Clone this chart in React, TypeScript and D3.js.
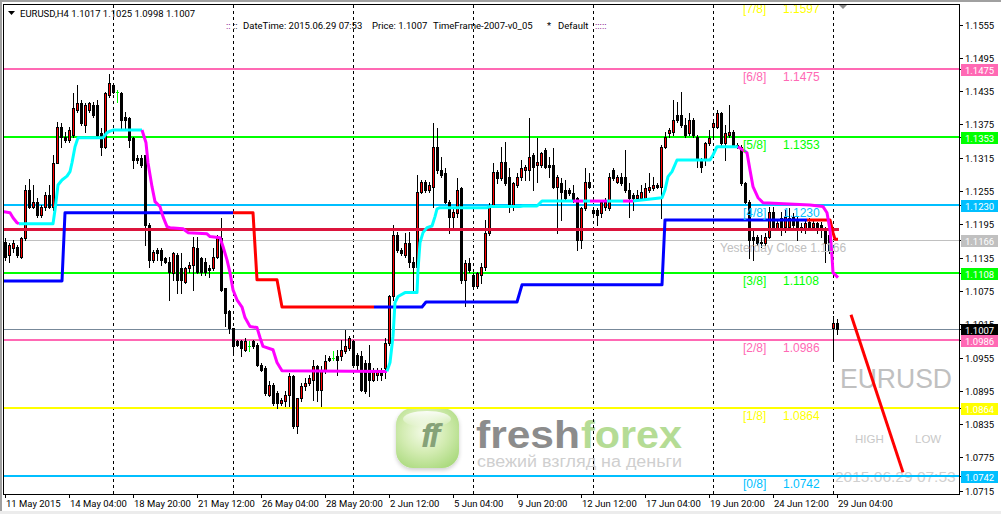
import React from "react";
import * as d3 from "d3";

// ---------- DATA ----------
const firstBar = 3; // bar index of first visible candle (bar 0 = 11 May 2015 00:00, H4)

const opens = [
  1.1164,1.1140,1.1152,1.1155,1.1137,1.1170,1.1257,1.1227,1.1236,1.1212,
  1.1227,1.1248,1.1227,1.1305,1.1371,1.1353,1.1347,1.1356,1.1401,1.1413,
  1.1374,1.1401,1.1410,1.1410,1.1359,1.1335,1.1428,1.1446,1.1434,1.1431,
  1.1389,1.1386,1.1350,1.1314,1.1314,1.1320,1.1194,1.1131,1.1149,1.1149,
  1.1134,1.1128,1.1107,1.1140,1.1116,1.1092,1.1116,1.1122,1.1152,1.1134,
  1.1128,1.1116,1.1116,1.1137,1.1170,1.1080,1.1038,1.1008,1.0984,1.0984,
  1.0969,1.0975,1.0984,1.0978,1.0942,1.0936,1.0888,1.0906,1.0891,1.0873,
  1.0876,1.0888,1.0921,1.0831,1.0882,1.0903,1.0909,1.0915,1.0939,1.0897,
  1.0930,1.0954,1.0954,1.0957,1.0957,1.0966,1.0972,1.0984,1.0960,1.0957,
  1.0945,1.0945,1.0915,1.0924,1.0933,1.0936,1.0981,1.1065,1.1176,1.1149,
  1.1140,1.1161,1.1128,1.1119,1.1254,1.1272,1.1257,1.1263,1.1335,1.1293,
  1.1287,1.1236,1.1209,1.1215,1.1260,1.1095,1.1125,1.1104,1.1083,1.1104,
  1.1119,1.1179,1.1230,1.1290,1.1278,1.1308,1.1281,1.1227,1.1266,1.1281,
  1.1293,1.1293,1.1320,1.1302,1.1302,1.1329,1.1302,1.1302,1.1263,1.1269,
  1.1257,1.1257,1.1251,1.1242,1.1167,1.1224,1.1272,1.1221,1.1221,1.1215,
  1.1227,1.1224,1.1293,1.1272,1.1281,1.1281,1.1257,1.1248,1.1242,1.1242,
  1.1242,1.1257,1.1260,1.1266,1.1263,1.1335,1.1359,1.1362,1.1392,1.1392,
  1.1374,1.1359,1.1383,1.1353,1.1311,1.1311,1.1341,1.1371,1.1371,1.1395,
  1.1341,1.1356,1.1362,1.1338,1.1335,1.1269,1.1236,1.1173,1.1173,1.1164,
  1.1161,1.1173,1.1218,1.1188,1.1206,1.1191,1.1191,1.1209,1.1203,1.1191,
  1.1188,1.1200,1.1191,1.1197,1.1194,1.1185,1.1176,1.1008,1.1017,
];
const highs = [
  1.1170,1.1161,1.1167,1.1158,1.1173,1.1266,1.1276,1.1266,1.1242,1.1230,
  1.1254,1.1266,1.1320,1.1380,1.1377,1.1362,1.1371,1.1431,1.1446,1.1419,
  1.1413,1.1416,1.1416,1.1419,1.1368,1.1434,1.1466,1.1449,1.1437,1.1434,
  1.1398,1.1389,1.1353,1.1320,1.1320,1.1320,1.1197,1.1149,1.1152,1.1152,
  1.1137,1.1137,1.1146,1.1144,1.1143,1.1119,1.1128,1.1173,1.1173,1.1137,
  1.1134,1.1122,1.1152,1.1176,1.1206,1.1080,1.1041,1.1008,1.0987,1.0987,
  1.0990,1.0984,1.0987,1.0981,1.0945,1.0939,1.0912,1.0909,1.0894,1.0882,
  1.0894,1.0927,1.0924,1.0882,1.0909,1.0918,1.0924,1.0951,1.0942,1.0939,
  1.0960,1.0957,1.0966,1.0969,1.0987,1.1005,1.0993,1.0987,1.0963,1.0966,
  1.0951,1.0978,1.0936,1.0936,1.0936,1.0990,1.1068,1.1194,1.1182,1.1152,
  1.1179,1.1182,1.1137,1.1284,1.1275,1.1275,1.1272,1.1377,1.1368,1.1317,
  1.1296,1.1239,1.1227,1.1278,1.1263,1.1131,1.1134,1.1107,1.1110,1.1125,
  1.1203,1.1233,1.1305,1.1293,1.1335,1.1344,1.1296,1.1272,1.1287,1.1311,
  1.1302,1.1386,1.1323,1.1350,1.1326,1.1332,1.1317,1.1332,1.1284,1.1278,
  1.1275,1.1260,1.1266,1.1245,1.1227,1.1296,1.1287,1.1227,1.1224,1.1239,
  1.1242,1.1287,1.1296,1.1284,1.1287,1.1329,1.1269,1.1251,1.1257,1.1266,
  1.1269,1.1287,1.1281,1.1269,1.1338,1.1362,1.1368,1.1419,1.1416,1.1434,
  1.1386,1.1395,1.1386,1.1356,1.1314,1.1344,1.1365,1.1380,1.1401,1.1398,
  1.1374,1.1410,1.1365,1.1341,1.1338,1.1272,1.1239,1.1185,1.1176,1.1176,
  1.1179,1.1227,1.1227,1.1203,1.1218,1.1221,1.1224,1.1215,1.1209,1.1197,
  1.1203,1.1206,1.1203,1.1200,1.1200,1.1191,1.1185,1.1029,1.1025,
];
const lows = [
  1.1131,1.1128,1.1146,1.1137,1.1134,1.1167,1.1224,1.1224,1.1209,1.1209,
  1.1221,1.1224,1.1221,1.1305,1.1335,1.1344,1.1344,1.1353,1.1398,1.1374,
  1.1362,1.1398,1.1389,1.1353,1.1320,1.1332,1.1425,1.1431,1.1416,1.1368,
  1.1368,1.1335,1.1296,1.1305,1.1299,1.1158,1.1119,1.1128,1.1131,1.1122,
  1.1125,1.1059,1.1095,1.1071,1.1071,1.1089,1.1110,1.1077,1.1107,1.1104,
  1.1104,1.1101,1.1113,1.1134,1.1074,1.1011,1.0999,1.0960,1.0975,1.0957,
  1.0966,1.0966,1.0972,1.0939,1.0930,1.0888,1.0885,1.0870,1.0864,1.0870,
  1.0867,1.0867,1.0828,1.0819,1.0876,1.0897,1.0906,1.0879,1.0876,1.0867,
  1.0927,1.0948,1.0951,1.0924,1.0951,1.0963,1.0969,1.0939,1.0930,1.0894,
  1.0891,1.0885,1.0912,1.0915,1.0915,1.0918,1.0978,1.1059,1.1146,1.1140,
  1.1137,1.1119,1.1077,1.1116,1.1251,1.1254,1.1254,1.1227,1.1287,1.1281,
  1.1233,1.1179,1.1191,1.1209,1.1089,1.1047,1.1110,1.1080,1.1080,1.1089,
  1.1113,1.1176,1.1227,1.1269,1.1275,1.1266,1.1218,1.1221,1.1263,1.1275,
  1.1275,1.1275,1.1257,1.1272,1.1299,1.1296,1.1281,1.1260,1.1179,1.1203,
  1.1239,1.1248,1.1236,1.1149,1.1152,1.1221,1.1260,1.1209,1.1194,1.1209,
  1.1221,1.1221,1.1275,1.1269,1.1266,1.1254,1.1209,1.1221,1.1239,1.1239,
  1.1239,1.1254,1.1257,1.1260,1.1206,1.1332,1.1353,1.1356,1.1380,1.1371,
  1.1353,1.1356,1.1353,1.1299,1.1290,1.1302,1.1338,1.1353,1.1368,1.1338,
  1.1311,1.1353,1.1335,1.1332,1.1266,1.1233,1.1134,1.1131,1.1158,1.1155,
  1.1158,1.1170,1.1185,1.1185,1.1176,1.1182,1.1185,1.1191,1.1167,1.1182,
  1.1179,1.1185,1.1185,1.1179,1.1173,1.1128,1.1143,1.0951,1.0998,
];
const closes = [
  1.1137,1.1157,1.1161,1.1140,1.1170,1.1257,1.1227,1.1236,1.1212,1.1227,
  1.1248,1.1227,1.1305,1.1371,1.1353,1.1347,1.1365,1.1404,1.1413,1.1377,
  1.1410,1.1413,1.1392,1.1356,1.1335,1.1431,1.1449,1.1434,1.1434,1.1383,
  1.1383,1.1347,1.1311,1.1311,1.1302,1.1194,1.1131,1.1146,1.1143,1.1131,
  1.1128,1.1110,1.1143,1.1095,1.1095,1.1116,1.1122,1.1155,1.1110,1.1110,
  1.1110,1.1113,1.1137,1.1170,1.1077,1.1035,1.1008,1.0975,1.0978,1.0972,
  1.0984,1.0975,1.0975,1.0942,1.0933,1.0891,1.0906,1.0873,1.0873,1.0879,
  1.0888,1.0921,1.0831,1.0882,1.0903,1.0909,1.0918,1.0939,1.0897,1.0930,
  1.0948,1.0951,1.0954,1.0951,1.0969,1.0975,1.0990,1.0942,1.0942,1.0897,
  1.0894,1.0915,1.0933,1.0933,1.0924,1.0981,1.1065,1.1176,1.1149,1.1143,
  1.1161,1.1128,1.1119,1.1254,1.1272,1.1257,1.1266,1.1335,1.1293,1.1284,
  1.1236,1.1209,1.1218,1.1257,1.1095,1.1125,1.1113,1.1083,1.1107,1.1119,
  1.1179,1.1227,1.1290,1.1278,1.1308,1.1269,1.1227,1.1269,1.1281,1.1296,
  1.1299,1.1317,1.1299,1.1308,1.1323,1.1299,1.1299,1.1263,1.1281,1.1254,
  1.1242,1.1251,1.1239,1.1167,1.1224,1.1272,1.1263,1.1215,1.1212,1.1236,
  1.1236,1.1281,1.1278,1.1281,1.1269,1.1257,1.1242,1.1242,1.1248,1.1254,
  1.1260,1.1263,1.1266,1.1263,1.1335,1.1353,1.1365,1.1383,1.1383,1.1374,
  1.1356,1.1383,1.1356,1.1311,1.1299,1.1341,1.1350,1.1377,1.1395,1.1341,
  1.1359,1.1362,1.1338,1.1335,1.1269,1.1236,1.1167,1.1167,1.1161,1.1161,
  1.1173,1.1218,1.1191,1.1197,1.1188,1.1209,1.1206,1.1194,1.1185,1.1185,
  1.1197,1.1188,1.1197,1.1188,1.1185,1.1161,1.1149,1.1017,1.1007,
];

const timeTickBars = [3, 19, 35, 51, 67, 83, 99, 115, 131, 147, 163, 179, 195, 211];
const timeTickLabels = [
  "11 May 2015", "14 May 04:00", "18 May 20:00", "21 May 12:00", "26 May 04:00",
  "28 May 20:00", "2 Jun 12:00", "5 Jun 04:00", "9 Jun 20:00", "12 Jun 12:00",
  "17 Jun 04:00", "19 Jun 20:00", "24 Jun 12:00", "29 Jun 04:00",
];
const weekStartBars = [30, 60, 90, 120, 150, 180, 210];

const priceTicks = [
  1.1555, 1.1495, 1.1435, 1.1375, 1.1315, 1.1255, 1.1195, 1.1135,
  1.1075, 1.1015, 1.0955, 1.0895, 1.0835, 1.0775, 1.0715,
];

const mmNames = ["[0/8]", "[1/8]", "[2/8]", "[3/8]", "[4/8]", "[5/8]", "[6/8]", "[7/8]"];
const mmPrices = [1.0742, 1.0864, 1.0986, 1.1108, 1.1230, 1.1353, 1.1475, 1.1597];
const mmColors = ["#00BFFF", "#FFFF00", "#FF69B4", "#00FF00", "#00BFFF", "#00FF00", "#FF69B4", "#FFFF00"];

const pivotPrice = 1.1187;
const yesterdayClose = 1.1166;
const bidPrice = 1.1007;

// step trend line: up = blue, down = red ([bar, price])
const trendSegments: { up: boolean; pts: [number, number][] }[] = [
  { up: true, pts: [[2.5, 1.1093], [17.25, 1.1093], [18, 1.1216], [60, 1.1216]] },
  { up: false, pts: [[60, 1.1216], [65, 1.1216], [66, 1.1095], [71, 1.1095], [72.25, 1.1046], [95.25, 1.1046]] },
  { up: true, pts: [[95.25, 1.1046], [107.25, 1.1046], [108.25, 1.1055], [131, 1.1055], [132.25, 1.1086], [167.25, 1.1086], [168, 1.1203], [203.5, 1.1203]] },
  { up: false, pts: [[203.5, 1.1203], [209.25, 1.1203], [210, 1.1180], [210.5, 1.1168], [211.25, 1.1168]] },
];

// smoothed line: up = aqua, down = magenta ([bar, price])
const maSegments: { up: boolean; pts: [number, number][] }[] = [
  { up: false, pts: [[2.5, 1.1218], [4.25, 1.1216], [5, 1.1207], [6, 1.1198], [6.5, 1.1196]] },
  { up: true, pts: [[6.5, 1.1196], [15, 1.1196], [15.5, 1.1221], [16.25, 1.1266], [17.25, 1.1275], [18.5, 1.1282], [19.25, 1.1290], [19.75, 1.1306], [20.5, 1.1335], [21.25, 1.1351], [27.5, 1.1351], [28.5, 1.1360], [29.25, 1.1363], [30, 1.1365], [37.25, 1.1365]] },
  { up: false, pts: [[37.25, 1.1365], [38.25, 1.1342], [38.75, 1.1306], [39.75, 1.1263], [40.5, 1.1236], [41.75, 1.1227], [42.5, 1.1209], [43.5, 1.1191], [44.25, 1.1189], [47.5, 1.1187], [48.75, 1.1180], [53.5, 1.1178], [54.25, 1.1173], [56.75, 1.1171], [57.5, 1.1155], [58.5, 1.1131], [59.25, 1.1108], [60, 1.1077], [61, 1.1059], [62.25, 1.1046], [63, 1.1027], [64.25, 1.1011], [66, 1.1009], [66.75, 1.0991], [67.5, 1.0975], [70, 1.0969], [71, 1.0946], [72.25, 1.0931], [98.5, 1.0930]] },
  { up: true, pts: [[98.5, 1.0930], [99.25, 1.0946], [100, 1.0993], [100.5, 1.1054], [101.25, 1.1065], [103, 1.1072], [106, 1.1072], [106.25, 1.1113], [106.75, 1.1162], [107.5, 1.1180], [108.5, 1.1189], [109.75, 1.1192], [110.5, 1.1209], [111, 1.1223], [111.75, 1.1225], [123.5, 1.1225], [124.25, 1.1227], [131.75, 1.1227], [132.5, 1.1228], [136, 1.1228], [137.25, 1.1237], [145, 1.1237]] },
  { up: false, pts: [[145, 1.1237], [147.5, 1.1237]] },
  { up: true, pts: [[147.5, 1.1237], [149.25, 1.1237]] },
  { up: false, pts: [[149.25, 1.1237], [153.5, 1.1237]] },
  { up: true, pts: [[153.5, 1.1237], [157.5, 1.1237]] },
  { up: false, pts: [[157.5, 1.1237], [160, 1.1237]] },
  { up: true, pts: [[160, 1.1237], [167.25, 1.1243], [168, 1.1257], [168.75, 1.1281], [169.75, 1.1290], [171, 1.1311], [179.25, 1.1311], [180, 1.1320], [181, 1.1335], [186.25, 1.1335]] },
  { up: false, pts: [[186.25, 1.1335], [188.5, 1.1324], [189.25, 1.1293], [190, 1.1263], [191.25, 1.1243], [192.5, 1.1234], [204.25, 1.1230], [207.5, 1.1227], [208.5, 1.1216], [209.25, 1.1185], [209.75, 1.1137], [210, 1.1108], [211.25, 1.1099]] },
];

const forecastLine: [number, number][] = [[214.5, 1.1032], [227.5, 1.0748]];

// ---------- CHART ----------
const UI = "Roboto, 'Liberation Sans', Arial, sans-serif";
const AR = "'Liberation Sans', Arial, sans-serif";

export default function App() {
  const L = 3.5, T = 4.5, R = 959.5, B = 494.5;
  const x = d3.scaleLinear().domain([0, 211]).range([-7, 837]);
  const y = d3.scaleLinear().domain([1.0742, 1.1475]).range([475.7, 69]);
  const px = (i: number) => Math.round(x(i));
  const py = (p: number) => Math.round(y(p));
  const line = d3.line<[number, number]>().x((d) => x(d[0])).y((d) => y(d[1]));

  const candles = opens.map((o, k) => {
    const i = firstBar + k;
    const h = highs[k], l = lows[k], c = closes[k];
    const cx = px(i);
    const yh = py(h), yl = py(l);
    const top = Math.min(py(o), py(c)), bot = Math.max(py(o), py(c));
    if (o === c) {
      return (
        <g key={i}>
          <rect x={cx} y={yh} width={1} height={yl - yh + 1} fill="#00FF00" />
          <rect x={cx - 1} y={top} width={3} height={1} fill="#00FF00" />
        </g>
      );
    }
    const bull = c > o;
    return (
      <g key={i}>
        <rect x={cx} y={yh} width={1} height={yl - yh + 1} fill="#000" />
        <rect x={cx - 1} y={top} width={3} height={bot - top + 1} fill="#000" />
        {bull && bot - top > 1 && (
          <rect x={cx} y={top + 1} width={1} height={bot - top - 1} fill="#FF0000" />
        )}
      </g>
    );
  });

  const axisBoxes: { p: number; bg: string }[] = [
    { p: mmPrices[6], bg: "#FF69B4" },
    { p: mmPrices[5], bg: "#00FF00" },
    { p: mmPrices[4], bg: "#00BFFF" },
    { p: yesterdayClose, bg: "#C0C0C0" },
    { p: mmPrices[3], bg: "#00FF00" },
    { p: bidPrice, bg: "#000000" },
    { p: mmPrices[2], bg: "#FF69B4" },
    { p: mmPrices[1], bg: "#FFFF00" },
    { p: mmPrices[0], bg: "#00BFFF" },
  ];

  return (
    <div style={{ position: "absolute", left: 0, top: 0 }}>
      <svg width={1001} height={514} style={{ display: "block" }}>
        <defs>
          <clipPath id="plot">
            <rect x={4} y={5} width={955} height={489} />
          </clipPath>
          <radialGradient id="ffg" cx="45%" cy="40%" r="70%">
            <stop offset="0%" stopColor="#f4fbe8" />
            <stop offset="50%" stopColor="#d3ecb2" />
            <stop offset="100%" stopColor="#a9d97c" />
          </radialGradient>
          <linearGradient id="gloss" x1="0" y1="0" x2="0" y2="1">
            <stop offset="0%" stopColor="#ffffff" stopOpacity={0.9} />
            <stop offset="100%" stopColor="#ffffff" stopOpacity={0} />
          </linearGradient>
          <filter id="sh" x="-20%" y="-20%" width="140%" height="150%">
            <feGaussianBlur in="SourceAlpha" stdDeviation="2" />
            <feOffset dy="2" result="b" />
            <feComponentTransfer><feFuncA type="linear" slope="0.2" /></feComponentTransfer>
            <feMerge><feMergeNode /><feMergeNode in="SourceGraphic" /></feMerge>
          </filter>
        </defs>

        <rect x={0} y={0} width={1001} height={514} fill="#fff" />
        <rect x={0} y={0} width={1001} height={2} fill="#a0a0a0" />
        <rect x={0} y={0} width={2} height={514} fill="#a0a0a0" />
        <rect x={0} y={511} width={1001} height={3} fill="#ececec" />

        <g clipPath="url(#plot)">
          {/* watermark logo */}
          <g>
            <rect x={396} y={408} width={63} height={60} rx={17} fill="url(#ffg)" filter="url(#sh)" />
            <ellipse cx={427} cy={419} rx={24} ry={8} fill="url(#gloss)" />
            <text x={429} y={447} textAnchor="middle" fontFamily={AR} fontWeight="bold" fontStyle="italic" fontSize={34} fill="#86a278" letterSpacing={-3}>ff</text>
            <text x={476} y={448} fontFamily={AR} fontWeight="bold" fontSize={38} fill="#8c8c8c" textLength={104} lengthAdjust="spacingAndGlyphs">fresh</text>
            <text x={581} y={448} fontFamily={AR} fontWeight="bold" fontSize={38} fill="#b5dc95" textLength={101} lengthAdjust="spacingAndGlyphs">forex</text>
            <text x={477} y={467} fontFamily={AR} fontSize={16} fill="#cfcfcf" textLength={205} lengthAdjust="spacingAndGlyphs">свежий взгляд на деньги</text>
          </g>

          {/* symbol watermark texts */}
          <text x={840} y={388} fontFamily={AR} fontSize={27} fill="#C0C0C0" textLength={112} lengthAdjust="spacingAndGlyphs">EURUSD</text>
          <text x={855} y={443} fontFamily={AR} fontSize={11.5} fill="#C8C8C8">HIGH</text>
          <text x={915} y={443} fontFamily={AR} fontSize={11.5} fill="#C8C8C8">LOW</text>
          <text x={835} y={482} fontFamily={AR} fontSize={15.5} fill="#D0D0D0">2015.06.29 07:53</text>

          {/* week separators */}
          {weekStartBars.map((b) => (
            <line key={b} x1={px(b) + 0.5} x2={px(b) + 0.5} y1={5} y2={494} stroke="#000" strokeWidth={1} strokeDasharray="3,3" />
          ))}

          {/* Murrey math levels */}
          {mmPrices.map((p, k) => (
            <line key={k} x1={4} x2={959} y1={py(p)} y2={py(p)} stroke={mmColors[k]} strokeWidth={2} />
          ))}
          <line x1={4} x2={959} y1={py(yesterdayClose) + 0.5} y2={py(yesterdayClose) + 0.5} stroke="#C0C0C0" strokeWidth={1} />
          <line x1={4} x2={959} y1={py(bidPrice) + 0.5} y2={py(bidPrice) + 0.5} stroke="#778899" strokeWidth={1} />

          {/* candles */}
          <g shapeRendering="crispEdges">{candles}</g>

          {/* pivot line */}
          <line x1={4} x2={px(211) + 2} y1={py(pivotPrice) + 0.5} y2={py(pivotPrice) + 0.5} stroke="#DC143C" strokeWidth={3} />

          {/* trend step line */}
          {trendSegments.map((s, k) => (
            <path key={k} d={line(s.pts) || ""} fill="none" stroke={s.up ? "#0000FF" : "#FF0000"} strokeWidth={3} strokeLinejoin="round" />
          ))}

          {/* smoothed line */}
          {maSegments.map((s, k) => (
            <path key={k} d={line(s.pts) || ""} fill="none" stroke={s.up ? "#00FFFF" : "#FF00FF"} strokeWidth={3} strokeLinejoin="round" />
          ))}

          {/* forecast line */}
          <path d={line(forecastLine) || ""} fill="none" stroke="#FF0000" strokeWidth={3} />

          {/* Murrey labels */}
          {mmPrices.map((p, k) => (
            <g key={k} fontFamily={AR} fontSize={12} fill={mmColors[k]}>
              <text x={743} y={y(p) + 12}>{mmNames[k]}</text>
              <text x={783} y={y(p) + 12}>{p.toFixed(4)}</text>
            </g>
          ))}
          <text x={720} y={y(yesterdayClose) + 11.5} fontFamily={AR} fontSize={12} fill="#C0C0C0">
            {"Yesterday Close " + yesterdayClose.toFixed(4)}
          </text>

          {/* header */}
          <polygon points="8,11 15,11 11.5,15" fill="#000" />
          <text x={20} y={17} fontFamily={UI} fontSize={9.5} fill="#000">
            {"EURUSD,H4  " + [opens[208], highs[208], lows[208], closes[208]].map((v) => v.toFixed(4)).join(" ")}
          </text>
          <g fontFamily={UI} fontSize={9.5}>
            <text x={226} y={29} fill="#800080">::</text>
            <text x={233} y={29} fill="#000">::</text>
            <text x={243} y={29} fill="#000">DateTime: 2015.06.29 07:53</text>
            <text x={372} y={29} fill="#000">{"Price: " + bidPrice.toFixed(4)}</text>
            <text x={433} y={29} fill="#000">TimeFrame-2007-v0_05</text>
            <text x={547} y={29} fill="#000">*</text>
            <text x={558} y={29} fill="#000">Default</text>
            <text x={595} y={29} fill="#800080">:::::</text>
          </g>
          <polygon points="839,5 847,5 843,9" fill="#8a8a8a" />
        </g>

        {/* frame */}
        <rect x={L} y={T} width={R - L} height={B - T} fill="none" stroke="#000" strokeWidth={1} shapeRendering="crispEdges" />

        {/* price axis */}
        <g fontFamily={UI} fontSize={9.5} fill="#000">
          {priceTicks.map((p) => (
            <g key={p}>
              <line x1={959.5} x2={963} y1={py(p) + 0.5} y2={py(p) + 0.5} stroke="#000" />
              <text x={965} y={py(p) + 4}>{p.toFixed(4)}</text>
            </g>
          ))}
        </g>
        {axisBoxes.map((b, k) => (
          <g key={k}>
            <line x1={959.5} x2={963} y1={py(b.p) + 0.5} y2={py(b.p) + 0.5} stroke="#000" />
            <rect x={961} y={py(b.p) - 5} width={37} height={12} fill={b.bg} />
            <text x={965} y={py(b.p) + 4.5} fontFamily={UI} fontSize={9.5} fill="#fff">{b.p.toFixed(4)}</text>
          </g>
        ))}

        {/* time axis */}
        <g fontFamily={UI} fontSize={9.5} fill="#000">
          {timeTickBars.map((b, k) => (
            <g key={b}>
              <line x1={px(b) + 0.5} x2={px(b) + 0.5} y1={494.5} y2={498} stroke="#000" />
              <text x={px(b) + 1} y={507}>{timeTickLabels[k]}</text>
            </g>
          ))}
        </g>
      </svg>
    </div>
  );
}
